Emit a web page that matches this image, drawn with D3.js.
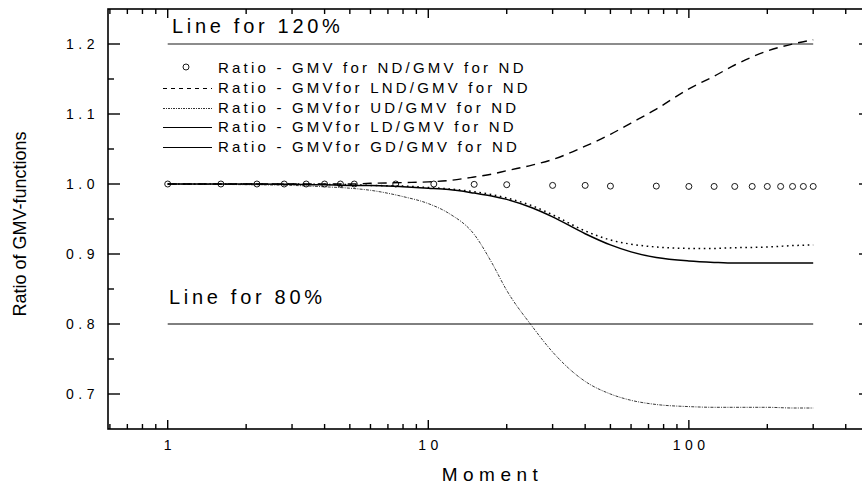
<!DOCTYPE html>
<html>
<head>
<meta charset="utf-8">
<script src="https://cdn.jsdelivr.net/npm/d3@7"></script>
<style>
  html, body { margin: 0; padding: 0; background: #fff; }
  svg { display: block; font-family: "Liberation Sans", Arial, sans-serif; }
</style>
</head>
<body>
<svg id="chart" width="862" height="489"></svg>
<script>
// Moments at which the ratio curves are evaluated
const moments = [1, 2, 3, 4, 5, 6, 8, 10, 12, 15, 17.5, 20, 25, 30, 40, 50, 60, 75, 100, 125, 150, 200, 250, 300];

// Ratio GMV(distribution) / GMV(normal) for each distribution
const ratioLND = [1.000, 1.000, 1.000, 0.9995, 0.999, 0.998, 0.997, 0.995, 0.993, 0.989, 0.985, 0.980, 0.969, 0.956, 0.933, 0.920, 0.914, 0.910, 0.908, 0.908, 0.909, 0.910, 0.912, 0.913];
const ratioUD  = [1.000, 0.999, 0.998, 0.996, 0.994, 0.991, 0.982, 0.972, 0.958, 0.928, 0.888, 0.848, 0.797, 0.760, 0.718, 0.700, 0.691, 0.685, 0.682, 0.681, 0.681, 0.681, 0.680, 0.680];
const ratioLD  = [1.000, 1.000, 0.9995, 0.999, 0.998, 0.998, 0.996, 0.994, 0.992, 0.987, 0.983, 0.978, 0.966, 0.953, 0.929, 0.913, 0.903, 0.895, 0.890, 0.888, 0.887, 0.887, 0.887, 0.887];
const ratioGD  = [1.000, 1.000, 1.000, 1.000, 1.000, 1.001, 1.002, 1.003, 1.005, 1.010, 1.014, 1.019, 1.027, 1.035, 1.054, 1.071, 1.087, 1.107, 1.136, 1.154, 1.170, 1.190, 1.200, 1.206];

// ND / ND reference points
const ndMoments = [1, 1.6, 2.2, 2.8, 3.4, 4, 4.6, 5.2, 7.5, 10.5, 15, 20, 30, 40, 50, 75, 100, 125, 150, 175, 200, 225, 250, 275, 300];
const ndRatio   = [1.000, 1.000, 1.000, 1.000, 1.000, 1.000, 1.000, 1.000, 1.000, 1.000, 0.9995, 0.999, 0.998, 0.998, 0.997, 0.997, 0.9965, 0.9965, 0.9965, 0.9965, 0.9965, 0.9965, 0.9965, 0.9965, 0.9965];

// Reference levels
const refLevels = [1.2, 0.8];
const refLabels = ["Line for 120%", "Line for 80%"];
const refRange  = [1, 300];

// Axis ticks
const yMajorTicks = [0.7, 0.8, 0.9, 1.0, 1.1, 1.2];
const yMinorTicks = [0.75, 0.85, 0.95, 1.05, 1.15];
const xMajorTicks = [1, 10, 100];
const xMinorTicks = [0.6, 0.7, 0.8, 0.9, 2, 3, 4, 5, 6, 7, 8, 9, 20, 30, 40, 50, 60, 70, 80, 90, 200, 300, 400];

const legendLabels = [
  "Ratio - GMV for ND/GMV for ND",
  "Ratio - GMVfor LND/GMV for ND",
  "Ratio - GMVfor UD/GMV for ND",
  "Ratio - GMVfor LD/GMV for ND",
  "Ratio - GMVfor GD/GMV for ND"
];

const svg = d3.select("#chart");

const plotL = 108, plotR = 871, plotT = 9, plotB = 429;
const x = d3.scaleLog().domain([0.59, 500]).range([plotL, plotR]);
const y = d3.scaleLinear().domain([0.65, 1.25]).range([plotB, plotT]);

// Frame and ticks
svg.append("rect")
  .attr("x", plotL).attr("y", plotT)
  .attr("width", plotR - plotL).attr("height", plotB - plotT)
  .attr("fill", "none").attr("stroke", "#000").attr("stroke-width", 1.6);

const tickG = svg.append("g").attr("stroke", "#000").attr("stroke-width", 1.4);
function xTicks(vals, len) {
  vals.forEach(v => {
    tickG.append("line").attr("x1", x(v)).attr("x2", x(v)).attr("y1", plotB).attr("y2", plotB - len);
    tickG.append("line").attr("x1", x(v)).attr("x2", x(v)).attr("y1", plotT).attr("y2", plotT + len);
  });
}
function yTicks(vals, len) {
  vals.forEach(v => {
    tickG.append("line").attr("x1", plotL).attr("x2", plotL + len).attr("y1", y(v)).attr("y2", y(v));
    tickG.append("line").attr("x1", plotR).attr("x2", plotR - len).attr("y1", y(v)).attr("y2", y(v));
  });
}
xTicks(xMajorTicks, 9);
xTicks(xMinorTicks, 5);
yTicks(yMajorTicks, 12);
yTicks(yMinorTicks, 6);

// Tick labels
const tickLS = 4.5;
svg.append("g").selectAll("text").data(yMajorTicks).join("text")
  .attr("x", 99).attr("y", d => y(d))
  .attr("text-anchor", "end").attr("dominant-baseline", "central")
  .attr("font-size", 14).attr("letter-spacing", tickLS)
  .text(d => d3.format(".1f")(d));

svg.append("g").selectAll("text").data(xMajorTicks).join("text")
  .attr("x", d => x(d) + tickLS / 2).attr("y", 450)
  .attr("text-anchor", "middle")
  .attr("font-size", 14).attr("letter-spacing", tickLS)
  .text(d => String(d));

// Axis titles
svg.append("text")
  .attr("x", (plotL + plotR) / 2 + 3).attr("y", 481)
  .attr("text-anchor", "middle")
  .attr("font-size", 19).attr("letter-spacing", 5.5)
  .text("Moment");

svg.append("text")
  .attr("transform", "translate(26," + ((plotT + plotB) / 2 + 5) + ") rotate(-90)")
  .attr("text-anchor", "middle")
  .attr("font-size", 18)
  .text("Ratio of GMV-functions");

// Reference lines
svg.append("line")
  .attr("x1", x(refRange[0])).attr("x2", x(refRange[1]))
  .attr("y1", y(refLevels[0])).attr("y2", y(refLevels[0]))
  .attr("stroke", "#666").attr("stroke-width", 1.3);
svg.append("line")
  .attr("x1", x(refRange[0])).attr("x2", x(refRange[1]))
  .attr("y1", y(refLevels[1])).attr("y2", y(refLevels[1]))
  .attr("stroke", "#000").attr("stroke-width", 1);

svg.append("text").attr("x", 172).attr("y", 33)
  .attr("font-size", 20).attr("letter-spacing", 3.7).text(refLabels[0]);
svg.append("text").attr("x", 169).attr("y", 304)
  .attr("font-size", 20).attr("letter-spacing", 3.7).text(refLabels[1]);

// Ratio curves
const line = d3.line()
  .x(d => x(d[0])).y(d => y(d[1]))
  .curve(d3.curveMonotoneX);

const curves = [
  { values: ratioUD,  dash: "3,1.2,1,1.2", width: 0.9, color: "#222" },
  { values: ratioLND, dash: "1.6,3.6",     width: 1.5, color: "#000" },
  { values: ratioLD,  dash: null,          width: 1.5, color: "#000" },
  { values: ratioGD,  dash: "9,6",         width: 1.4, color: "#000" }
];
curves.forEach(c => {
  svg.append("path")
    .datum(moments.map((m, i) => [m, c.values[i]]))
    .attr("d", line)
    .attr("fill", "none")
    .attr("stroke", c.color)
    .attr("stroke-width", c.width)
    .attr("stroke-dasharray", c.dash);
});

// ND points
svg.append("g").selectAll("circle").data(ndMoments.map((m, i) => [m, ndRatio[i]])).join("circle")
  .attr("cx", d => x(d[0])).attr("cy", d => y(d[1])).attr("r", 3)
  .attr("fill", "none").attr("stroke", "#000").attr("stroke-width", 0.9);

// Legend
const legendRowY = [68, 88, 108, 127, 147];
const legendStyles = [
  { marker: true },
  { dash: "4,4", width: 1, color: "#000" },
  { dash: "2,1,1,1", width: 1, color: "#333" },
  { dash: null, width: 1, color: "#000" },
  { dash: null, width: 1, color: "#000" }
];
const legend = svg.append("g");
legendLabels.forEach((label, i) => {
  const st = legendStyles[i];
  const cy = legendRowY[i];
  if (st.marker) {
    legend.append("circle").attr("cx", 186).attr("cy", cy - 1).attr("r", 3)
      .attr("fill", "none").attr("stroke", "#000").attr("stroke-width", 0.9);
  } else {
    legend.append("line").attr("x1", 163).attr("x2", 212).attr("y1", cy + 0.5).attr("y2", cy + 0.5)
      .attr("stroke", st.color).attr("stroke-width", st.width).attr("stroke-dasharray", st.dash);
  }
  legend.append("text").attr("x", 218).attr("y", cy + 5)
    .attr("font-size", 15).attr("letter-spacing", 3.2).text(label);
});
</script>
</body>
</html>
